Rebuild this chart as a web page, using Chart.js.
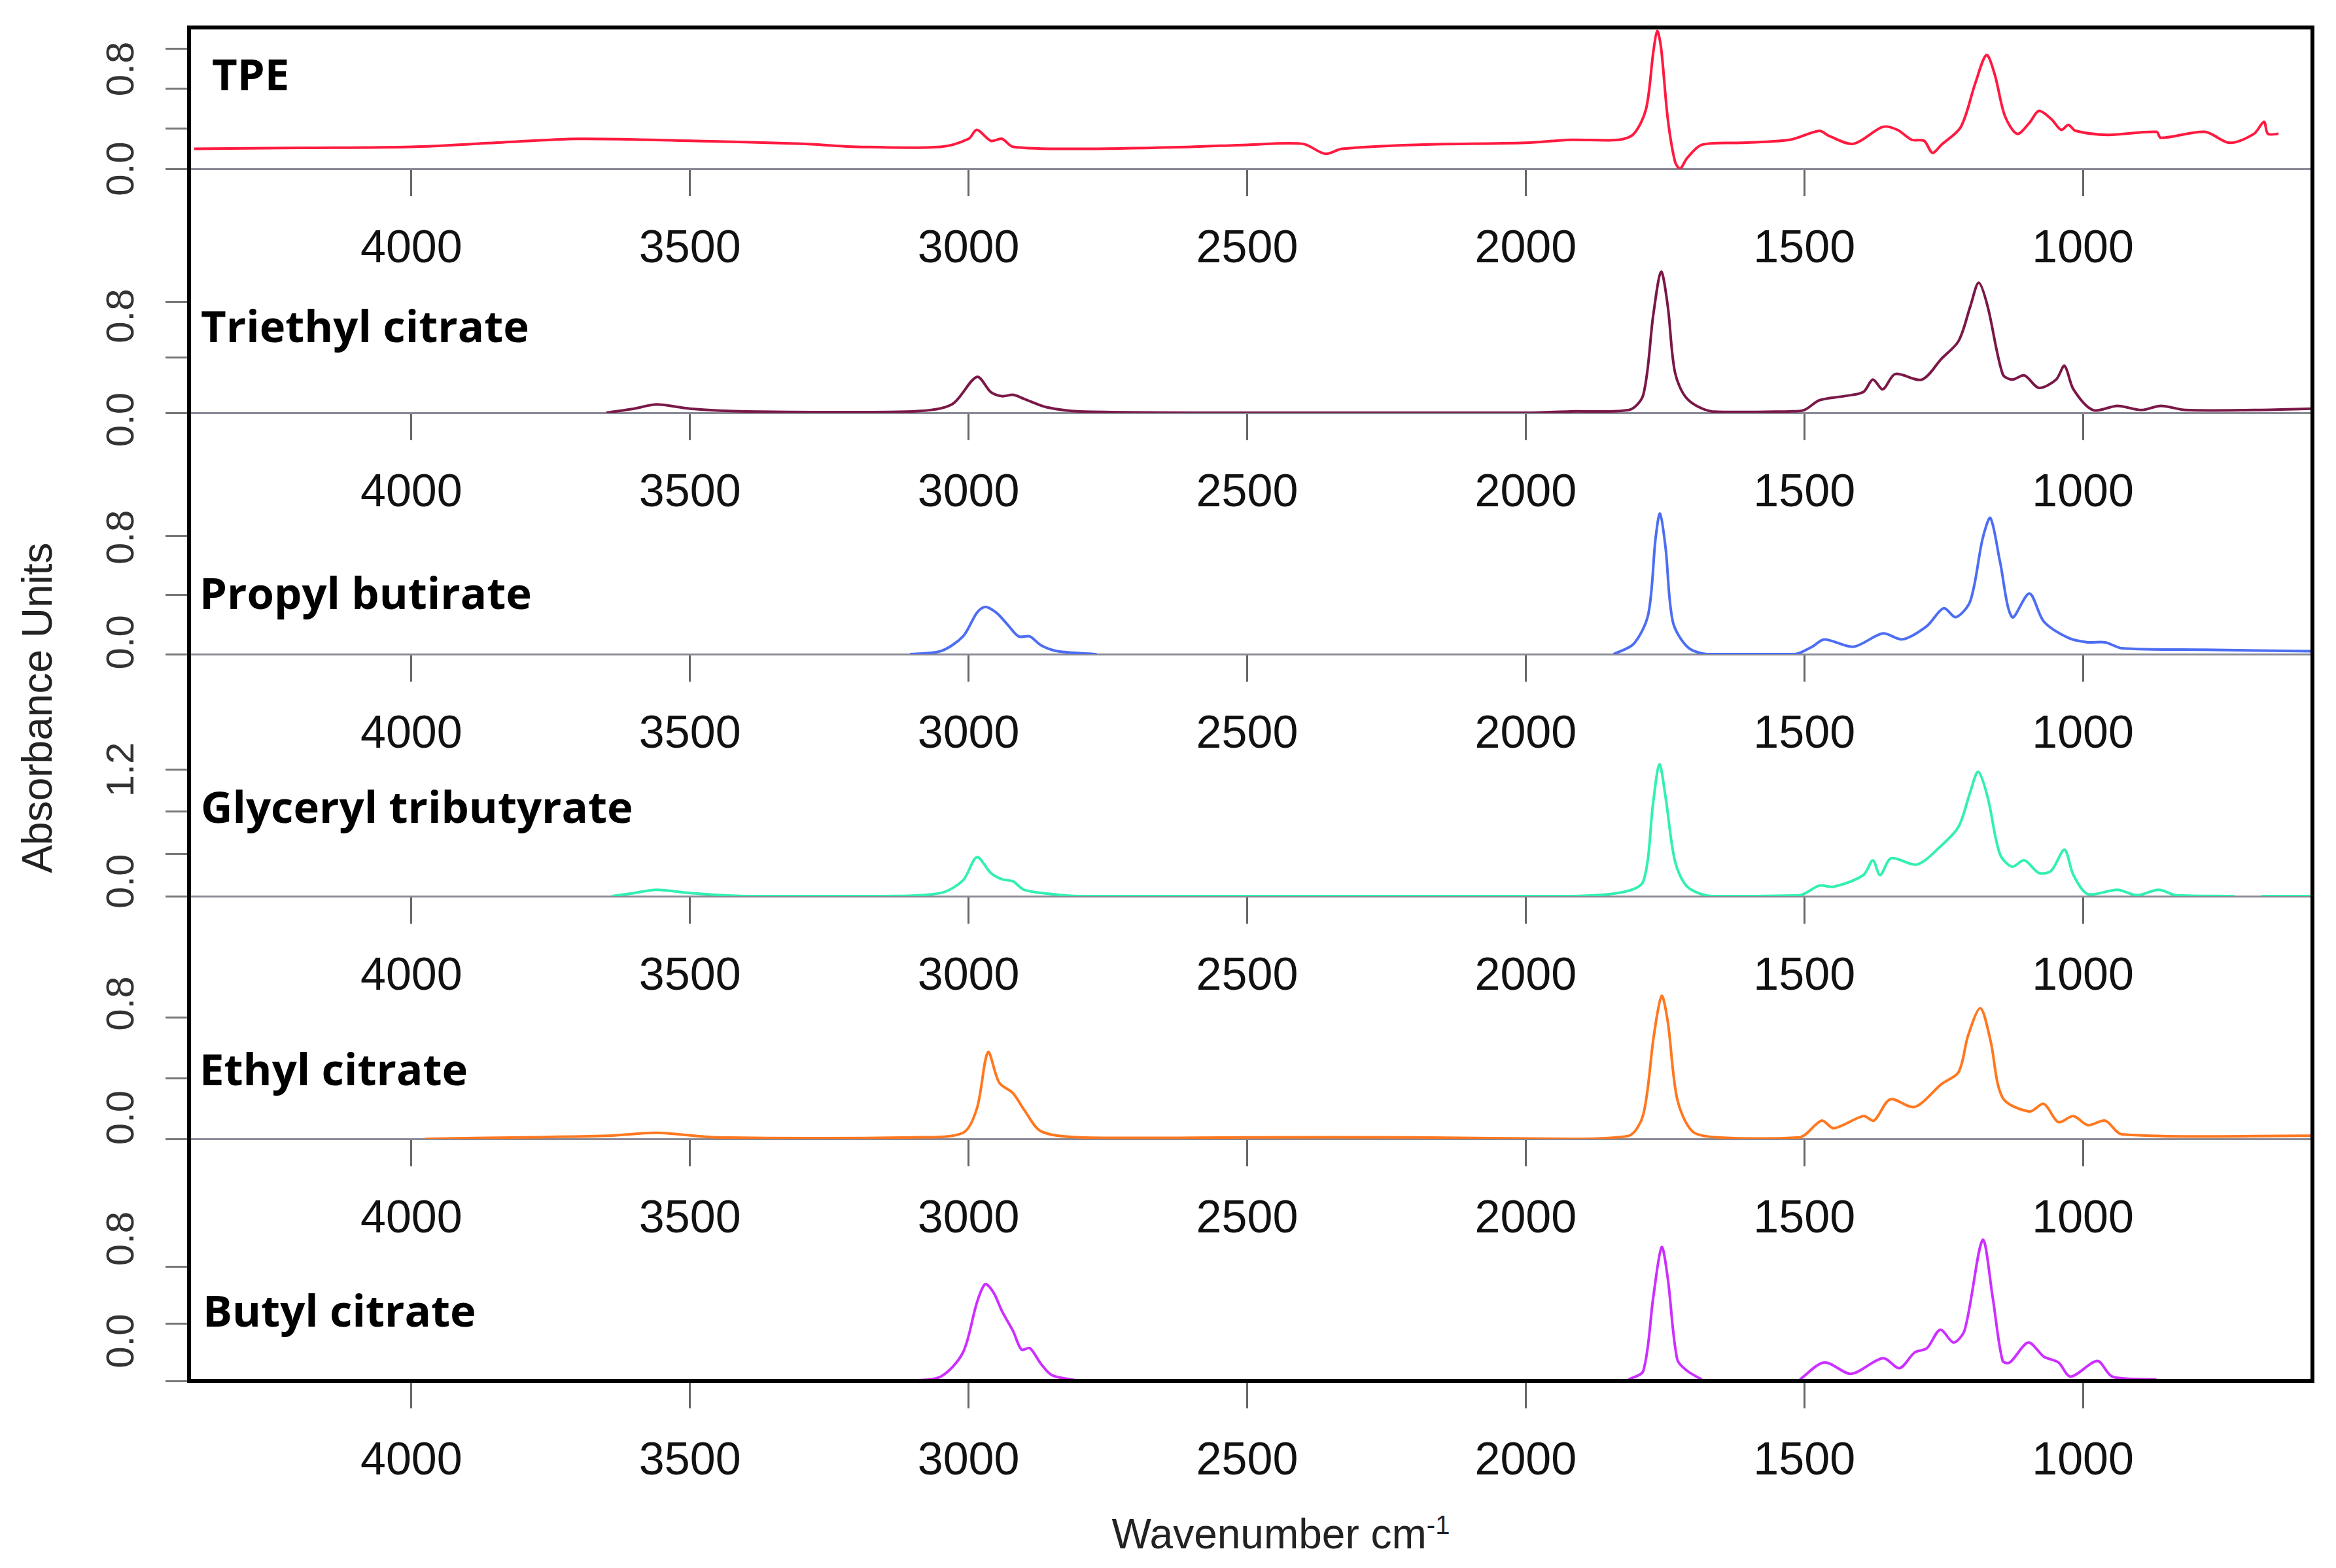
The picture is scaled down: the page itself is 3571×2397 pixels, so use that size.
<!DOCTYPE html>
<html>
<head>
<meta charset="utf-8">
<script src="https://cdn.jsdelivr.net/npm/chart.js@4.4.1/dist/chart.umd.min.js"></script>
<style>
  body { margin: 0; width: 3571px; height: 2397px; background: #fff; position: relative; overflow: hidden; font-family: "Liberation Sans", Arial, sans-serif; }
  canvas { position: absolute; left: 0; }
  .name { position: absolute; font-family: "Open Sans", sans-serif; font-weight: 700; font-size: 67px; color: #000; line-height: 1; transform: translateY(-50%); }
  #frame { position: absolute; left: 286px; top: 39px; width: 3252px; height: 2075px; border: 6px solid #000; box-sizing: border-box; }
  #ytitle { position: absolute; left: 57px; top: 1082px; font-size: 64px; transform: translate(-50%, -50%) rotate(-90deg); white-space: nowrap; color: #222; }
  #xtitle { position: absolute; left: 1958px; top: 2345px; font-size: 64px; transform: translate(-50%, -50%); white-space: nowrap; color: #222; }
  #xtitle sup { font-size: 40px; }
</style>
</head>
<body>
<div id="ytitle">Absorbance Units</div>
<div id="xtitle">Wavenumber cm<sup>-1</sup></div>

<script>
// x axis
const xTicks = [4000, 3500, 3000, 2500, 2000, 1500, 1000];
const xMax = 4399, xMin = 588;

// TPE
const tpeWn = [4390, 4200, 4000, 3850, 3700, 3500, 3300, 3200, 3050, 3000, 2985, 2960, 2940, 2920, 2800, 2600, 2500, 2400, 2360, 2330, 2200, 2000,
  1920, 1833, 1806, 1784, 1771, 1764, 1757, 1745, 1732, 1723, 1710, 1684, 1614, 1526, 1473, 1456, 1412, 1359, 1333, 1307, 1285, 1270, 1254,
  1219, 1193, 1173, 1158, 1140, 1118, 1096, 1079, 1057, 1039, 1026, 1013, 956, 868, 860, 781, 737, 693, 675, 668, 649];
const tpeAbs = [0.20, 0.21, 0.22, 0.26, 0.30, 0.28, 0.25, 0.22, 0.22, 0.30, 0.39, 0.28, 0.30, 0.22, 0.20, 0.22, 0.24, 0.25, 0.15, 0.20, 0.24, 0.26,
  0.29, 0.29, 0.35, 0.60, 1.17, 1.38, 1.21, 0.50, 0.07, 0.00, 0.11, 0.24, 0.26, 0.29, 0.38, 0.33, 0.25, 0.42, 0.39, 0.29, 0.28, 0.16, 0.24,
  0.42, 0.86, 1.14, 0.94, 0.53, 0.35, 0.46, 0.58, 0.50, 0.39, 0.44, 0.38, 0.34, 0.37, 0.31, 0.37, 0.26, 0.35, 0.47, 0.35, 0.35];

// Triethyl citrate
const tecWn = [3650, 3600, 3560, 3500, 3400, 3100, 3030, 2985, 2960, 2940, 2920, 2900, 2860, 2800, 2500, 2000,
  1920, 1815, 1789, 1771, 1757, 1745, 1732, 1710, 1666, 1526, 1500, 1473, 1429, 1394, 1377, 1359, 1337, 1289, 1254, 1223, 1202, 1187, 1171,
  1144, 1127, 1105, 1079, 1048, 1033, 1017, 982, 938, 895, 860, 816, 693, 588];
const tecAbs = [0.00, 0.03, 0.06, 0.03, 0.01, 0.01, 0.06, 0.26, 0.15, 0.12, 0.13, 0.10, 0.04, 0.01, 0.00, 0.00,
  0.01, 0.02, 0.13, 0.71, 1.02, 0.77, 0.29, 0.10, 0.01, 0.01, 0.02, 0.09, 0.12, 0.15, 0.24, 0.17, 0.28, 0.24, 0.39, 0.52, 0.77, 0.94, 0.77,
  0.28, 0.24, 0.27, 0.18, 0.24, 0.34, 0.17, 0.02, 0.05, 0.02, 0.05, 0.02, 0.02, 0.03];

// Propyl butirate
const pbWn = [3105, 3050, 3010, 2985, 2970, 2950, 2930, 2910, 2890, 2870, 2840, 2770, 2000, 1842, 1806, 1780, 1767, 1759, 1749, 1736, 1710, 1675,
  1517, 1486, 1464, 1412, 1359, 1324, 1280, 1250, 1228, 1202, 1180, 1166, 1149, 1127, 1096, 1070, 1026, 991, 960, 930, 781, 588];
const pbAbs = [0.00, 0.02, 0.12, 0.28, 0.32, 0.28, 0.20, 0.12, 0.12, 0.06, 0.02, 0.00, null, 0.00, 0.07, 0.27, 0.78, 0.95, 0.72, 0.22, 0.05, 0.00,
  0.00, 0.05, 0.10, 0.05, 0.14, 0.10, 0.19, 0.31, 0.25, 0.36, 0.78, 0.92, 0.63, 0.25, 0.41, 0.22, 0.11, 0.08, 0.08, 0.04, 0.03, 0.02];

// Glyceryl tributyrate
const gtWn = [3640, 3600, 3560, 3500, 3400, 3150, 3050, 3010, 2985, 2960, 2940, 2920, 2900, 2850, 2800,
  1920, 1824, 1789, 1771, 1760, 1749, 1732, 1710, 1666, 1508, 1473, 1447, 1394, 1377, 1364, 1344, 1298, 1254, 1223, 1202, 1188, 1171,
  1149, 1127, 1105, 1079, 1057, 1033, 1017, 991, 938, 903, 864, 833, 728, 690, 680, 588];
const gtAbs = [0.00, 0.03, 0.06, 0.03, 0.00, 0.00, 0.03, 0.15, 0.37, 0.22, 0.16, 0.14, 0.06, 0.02, 0.00,
  0.00, 0.04, 0.14, 0.90, 1.25, 0.94, 0.33, 0.09, 0.00, 0.01, 0.10, 0.09, 0.20, 0.34, 0.20, 0.36, 0.30, 0.48, 0.66, 0.99, 1.18, 0.94,
  0.40, 0.28, 0.34, 0.22, 0.24, 0.44, 0.20, 0.02, 0.06, 0.01, 0.06, 0.01, 0.00, null, 0.00, 0.00];

// Ethyl citrate
const ecWn = [3976, 3800, 3650, 3560, 3450, 3100, 3010, 2985, 2965, 2945, 2920, 2900, 2870, 2800, 2500, 2200,
  1920, 1815, 1789, 1770, 1756, 1745, 1728, 1701, 1657, 1508, 1469, 1447, 1394, 1375, 1346, 1302, 1254, 1223, 1206, 1184, 1166,
  1144, 1096, 1070, 1044, 1017, 991, 960, 930, 588];
const ecAbs = [0.00, 0.01, 0.02, 0.04, 0.01, 0.01, 0.04, 0.20, 0.57, 0.37, 0.30, 0.19, 0.05, 0.01, 0.01, 0.01,
  0.00, 0.02, 0.16, 0.68, 0.94, 0.77, 0.26, 0.05, 0.01, 0.01, 0.12, 0.07, 0.15, 0.12, 0.26, 0.21, 0.36, 0.44, 0.68, 0.86, 0.65,
  0.27, 0.18, 0.23, 0.11, 0.15, 0.09, 0.12, 0.03, 0.02];

// Butyl citrate
const bcWn = [3105, 3050, 3010, 2985, 2970, 2955, 2940, 2920, 2905, 2890, 2870, 2850, 2800, 2000, 1815, 1789, 1771, 1756, 1745, 1728, 1710, 1684,
  1600, 1508, 1464, 1416, 1359, 1329, 1302, 1280, 1256, 1232, 1212, 1180, 1162, 1144, 1131, 1098, 1070, 1044, 1022, 974, 947, 868];
const bcAbs = [0.00, 0.03, 0.20, 0.55, 0.68, 0.62, 0.49, 0.35, 0.22, 0.23, 0.12, 0.04, 0.00, null, 0.01, 0.07, 0.59, 0.94, 0.72, 0.15, 0.07, 0.01,
  null, 0.01, 0.13, 0.05, 0.16, 0.09, 0.20, 0.23, 0.36, 0.27, 0.36, 0.99, 0.59, 0.14, 0.13, 0.27, 0.17, 0.13, 0.03, 0.14, 0.03, 0.01];

// panel names, colours, y tick marks and y tick labels
const names = ["TPE", "Triethyl citrate", "Propyl butirate", "Glyceryl tributyrate", "Ethyl citrate", "Butyl citrate"];
const colors = ["#ff1a40", "#7a1848", "#4d6ef2", "#33f0b2", "#ff7820", "#cc30ff"];
const seriesWn = [tpeWn, tecWn, pbWn, gtWn, ecWn, bcWn];
const seriesAbs = [tpeAbs, tecAbs, pbAbs, gtAbs, ecAbs, bcAbs];
const yMax = [1.416, 1.093, 1.017, 1.426, 0.994, 1.062];
const yMarks = [[0, 0.4, 0.8, 1.2], [0, 0.4, 0.8], [0, 0.4, 0.8], [0, 0.4, 0.8, 1.2], [0, 0.4, 0.8], [0, 0.4, 0.8]];
const yLabelAt = [[0, 1.0], [-0.05, 0.7], [0.08, 0.79], [0.14, 1.2], [0.14, 0.89], [0.28, 1.0]];
const yLabelText = [["0.0", "0.8"], ["0.0", "0.8"], ["0.0", "0.8"], ["0.0", "1.2"], ["0.0", "0.8"], ["0.0", "0.8"]];

// layout of the panels (chart area top / bottom)
const panelTop = [42, 400, 770, 1140, 1510, 1880];
const panelBottom = [258, 631, 1000, 1370, 1741, 2111];
const nameY = [112, 497, 905, 1232, 1633, 2002];
const nameX = [324, 307, 305, 307, 305, 310];
const X_AXIS_H = 170;
const PAD_TOP = 40;

const yLabelPlugin = {
  id: "yLabels",
  afterDraw(chart) {
    const i = chart.options.plugins.yLabels.panel;
    const ctx = chart.ctx, ys = chart.scales.y;
    ctx.save();
    ctx.font = "60px 'Liberation Sans', Arial, sans-serif";
    ctx.fillStyle = "#333";
    ctx.textAlign = "center";
    ctx.textBaseline = "middle";
    yLabelAt[i].forEach((v, k) => {
      ctx.save();
      ctx.translate(187, ys.getPixelForValue(v));
      ctx.rotate(-Math.PI / 2);
      ctx.fillText(yLabelText[i][k], 0, 0);
      ctx.restore();
    });
    ctx.restore();
  }
};

names.forEach((name, i) => {
  const cv = document.createElement("canvas");
  const pad = i === 0 ? 0 : PAD_TOP;
  const h = panelBottom[i] - panelTop[i] + X_AXIS_H + pad;
  cv.width = 3571; cv.height = h;
  cv.style.top = (panelTop[i] - pad) + "px";
  cv.style.width = "3571px"; cv.style.height = h + "px";
  document.body.appendChild(cv);

  const lbl = document.createElement("div");
  lbl.className = "name";
  lbl.textContent = name;
  lbl.style.left = nameX[i] + "px";
  lbl.style.top = nameY[i] + "px";
  document.body.appendChild(lbl);

  new Chart(cv.getContext("2d"), {
    type: "line",
    data: {
      datasets: [{
        data: seriesWn[i].map((w, k) => ({ x: w, y: seriesAbs[i][k] })),
        borderColor: colors[i],
        borderWidth: 4,
        pointRadius: 0,
        tension: 0.3,
        spanGaps: false,
        fill: false
      }]
    },
    options: {
      responsive: false,
      devicePixelRatio: 1,
      animation: false,
      layout: { padding: { left: 0, right: 36, top: pad, bottom: 0 } },
      plugins: { legend: { display: false }, tooltip: { enabled: false }, yLabels: { panel: i } },
      scales: {
        x: {
          type: "linear", reverse: true, min: xMin, max: xMax,
          afterBuildTicks: s => { s.ticks = xTicks.map(v => ({ value: v })); },
          afterFit: s => { s.height = X_AXIS_H; },
          border: { display: true, color: i === 5 ? "#000" : "#8a8a96", width: i === 5 ? 6 : 3 },
          grid: { drawOnChartArea: false, tickLength: 42, tickColor: "#666", tickWidth: 3 },
          ticks: { padding: 40, maxRotation: 0, color: "#111", callback: v => String(v),
                   font: { family: "'Liberation Sans', Arial, sans-serif", size: 70 } }
        },
        y: {
          min: 0, max: yMax[i],
          afterBuildTicks: s => { s.ticks = yMarks[i].map(v => ({ value: v })); },
          afterFit: s => { s.width = 289; },
          border: { display: false },
          grid: { drawOnChartArea: false, tickLength: 36, tickColor: "#777", tickWidth: 3 },
          ticks: { display: false }
        }
      }
    },
    plugins: [yLabelPlugin]
  });
});

const frame = document.createElement("div");
frame.id = "frame";
document.body.appendChild(frame);
</script>
</body>
</html>
